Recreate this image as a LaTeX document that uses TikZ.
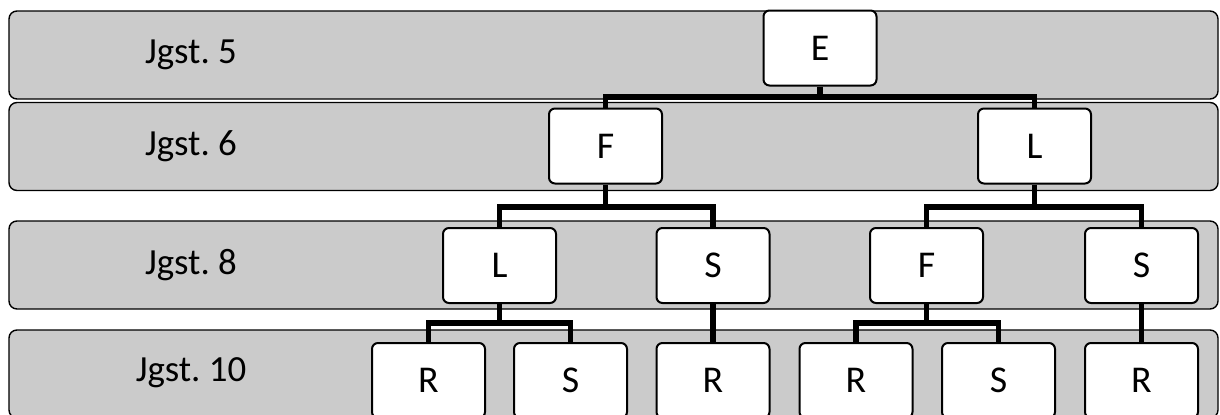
\documentclass[tikz,border=0pt]{standalone}
\usepackage{fontspec}
\setmainfont{Carlito}
\frenchspacing
\begin{document}
\begin{tikzpicture}[x=1bp,y=-1bp,
  band/.style={draw=black, line width=1.4bp, fill=bandgray, rounded corners=8bp,
    minimum width=1209bp, minimum height=88bp, inner sep=0pt},
  lbl/.style={font=\fontsize{37}{42}\selectfont, inner sep=0pt},
  box/.style={draw=black, line width=2bp, fill=white, rounded corners=6bp,
    minimum width=113bp, minimum height=75bp, inner sep=0pt,
    font=\fontsize{38}{42}\selectfont},
  conn/.style={draw=black, line width=5.5bp, line join=miter}]
\definecolor{bandgray}{HTML}{CBCBCB}
\useasboundingbox (0,0) rectangle (1220,414);
\clip (0,0) rectangle (1220,414);
% bands
\node[band] (b5) at (613.5,55) {};
\node[band] (b6) at (613.5,146.5) {};
\node[band] (b8) at (613.5,265) {};
\node[band] (b10) at (613.5,374) {};
\node[lbl] (t5) at (191,55) {Jgst.\ 5};
\node[lbl] (t6) at (191,146.5) {Jgst.\ 6};
\node[lbl] (t8) at (191,265.5) {Jgst.\ 8};
\node[lbl] (t10) at (191,373) {Jgst.\ 10};
% boxes
\node[box] (e) at (820,48) {E};
\node[box] (f6) at (605.5,146) {F};
\node[box] (l6) at (1034.5,146) {L};
\node[box] (l8) at (499.5,265.5) {L};
\node[box] (s8) at (713,265.5) {S};
\node[box] (f8) at (926.5,265.5) {F};
\node[box] (s8b) at (1141.5,265.5) {S};
\node[box] (r10a) at (428.5,380.5) {R};
\node[box] (s10a) at (570.5,380.5) {S};
\node[box] (r10b) at (713,380.5) {R};
\node[box] (r10c) at (856,380.5) {R};
\node[box] (s10b) at (998.5,380.5) {S};
\node[box] (r10d) at (1141.5,380.5) {R};
% junctions
\coordinate (j1) at (820,97);
\coordinate (j2) at (605.5,207);
\coordinate (j3) at (1034.5,207);
\coordinate (j4) at (499.5,323);
\coordinate (j5) at (926.5,323);
% connectors
\draw[conn] (e.south) -- (j1);
\draw[conn] (f6.north) |- (j1) -| (l6.north);
\draw[conn] (f6.south) -- (j2);
\draw[conn] (l8.north) |- (j2) -| (s8.north);
\draw[conn] (l6.south) -- (j3);
\draw[conn] (f8.north) |- (j3) -| (s8b.north);
\draw[conn] (l8.south) -- (j4);
\draw[conn] (r10a.north) |- (j4) -| (s10a.north);
\draw[conn] (s8.south) -- (r10b.north);
\draw[conn] (f8.south) -- (j5);
\draw[conn] (r10c.north) |- (j5) -| (s10b.north);
\draw[conn] (s8b.south) -- (r10d.north);
\end{tikzpicture}
\end{document}
